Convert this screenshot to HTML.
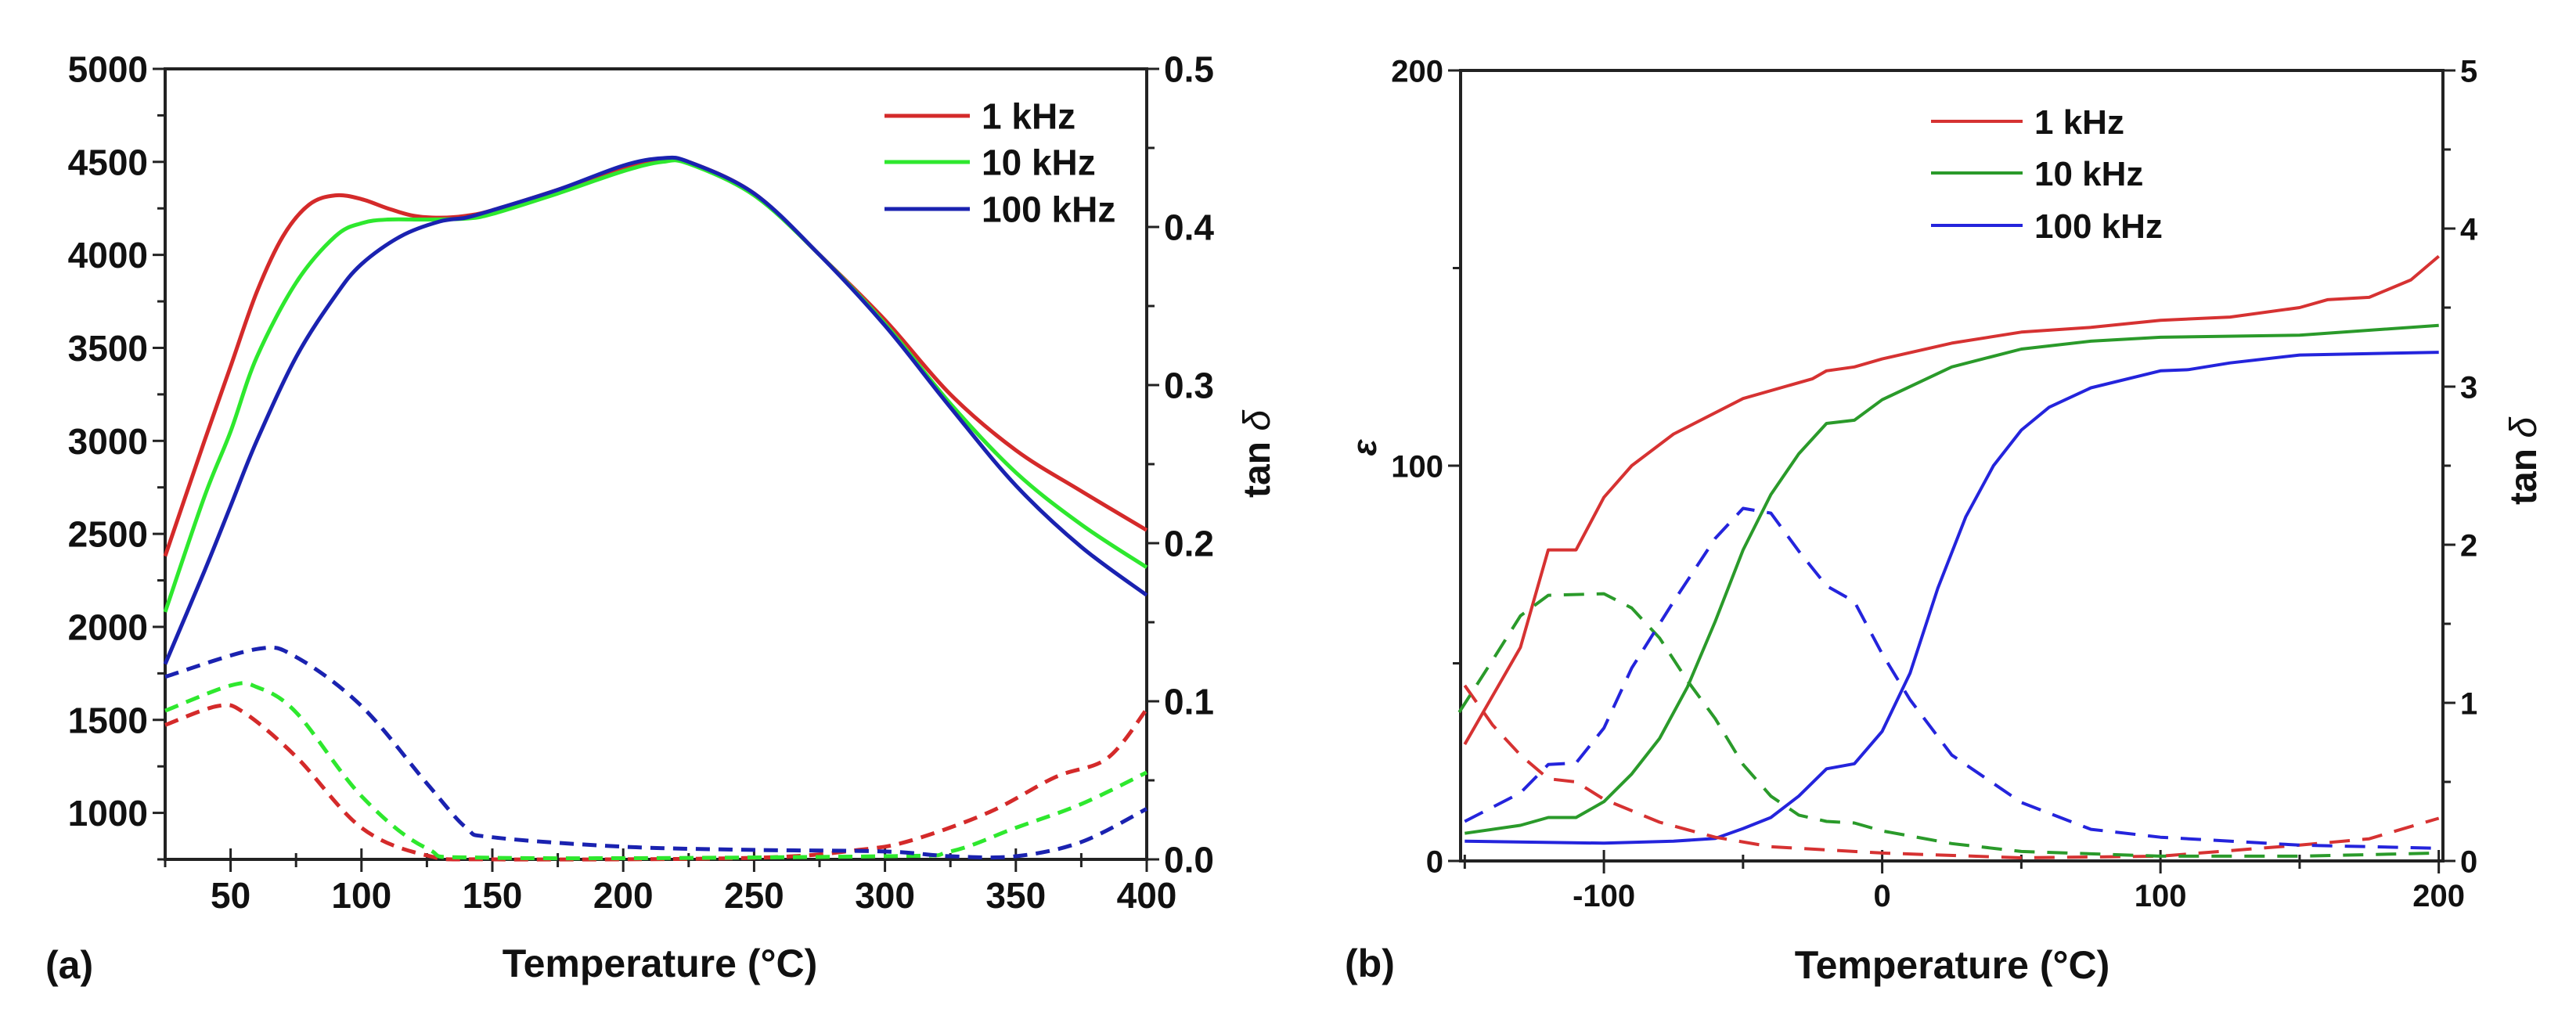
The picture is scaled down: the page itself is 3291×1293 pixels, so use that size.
<!DOCTYPE html>
<html><head><meta charset="utf-8"><style>
html,body{margin:0;padding:0;background:#fff;}
svg{display:block;}
text{font-family:"Liberation Sans",Arial,sans-serif;font-weight:bold;fill:#111;}
</style></head><body>
<svg id="chart" width="3291" height="1293" viewBox="0 0 3291 1293" xmlns="http://www.w3.org/2000/svg"></svg>
<script>
// ---------- Panel (a) data ----------
const aRedT = [25,40,50,60,70,80,90,100,110,120,130,140,150,175,200,215,225,250,275,300,325,350,375,400];
const aRedE = [2380,3000,3400,3800,4100,4270,4320,4300,4250,4210,4200,4210,4240,4350,4470,4510,4500,4330,4000,3650,3250,2950,2730,2520];
const aGreenT = [25,40,50,60,75,90,100,110,125,140,150,175,200,215,225,250,275,300,325,350,375,400];
const aGreenE = [2080,2700,3050,3450,3850,4100,4170,4190,4190,4195,4220,4330,4450,4500,4490,4320,4000,3630,3200,2830,2550,2320];
const aBlueT = [25,40,50,60,75,90,100,115,130,140,150,175,200,215,225,250,275,300,325,350,375,400];
const aBlueE = [1800,2300,2650,3000,3450,3780,3950,4100,4180,4200,4240,4350,4480,4520,4500,4330,4000,3620,3180,2760,2430,2170];
const aBlueTanT = [25,60,75,100,125,140,150,200,250,300,325,350,375,400];
const aBlueTan = [0.1155,0.133,0.128,0.097,0.048,0.02,0.014,0.008,0.006,0.005,0.002,0.002,0.011,0.032];
const aGreenTanT = [25,50,60,75,100,125,150,300,325,350,375,400];
const aGreenTan = [0.094,0.11,0.109,0.093,0.04,0.007,0.001,0.002,0.005,0.02,0.035,0.055];
const aRedTanT = [25,45,55,75,100,125,150,250,290,310,340,365,385,400];
const aRedTan = [0.085,0.097,0.093,0.065,0.02,0.0025,0,0.001,0.006,0.012,0.03,0.052,0.064,0.095];
const aXTicks = [50,100,150,200,250,300,350,400];
const aYTicks = [1000,1500,2000,2500,3000,3500,4000,4500,5000];
const aY2Ticks = ["0.0","0.1","0.2","0.3","0.4","0.5"];
// ---------- Panel (b) data ----------
const bRedT = [-150,-130,-120,-110,-100,-90,-75,-50,-25,-20,-10,0,25,50,75,100,125,150,160,175,190,200];
const bRedE = [29.5,54,78.7,78.7,92,100,108,117,122,124,125,127,131,133.8,135,136.8,137.6,140,142,142.6,147,153];
const bGreenT = [-150,-130,-120,-110,-100,-90,-80,-70,-60,-50,-40,-30,-20,-10,0,25,50,75,100,150,200];
const bGreenE = [7,9,11,11,15,22,31,44,60.6,78.7,92.7,103,110.7,111.5,116.7,125,129.5,131.5,132.5,133,135.5];
const bBlueT = [-150,-100,-75,-60,-50,-40,-30,-20,-10,0,10,20,30,40,50,60,75,100,110,125,150,200];
const bBlueE = [5,4.5,5,5.7,8.2,11,16.4,23.3,24.6,32.8,47.5,69,87,100,109,114.8,119.7,124,124.3,126,128,128.7];
const bRedTanT = [-150,-140,-130,-120,-110,-100,-80,-60,-40,-20,0,50,100,150,175,200];
const bRedTan = [1.11,0.86,0.67,0.52,0.5,0.39,0.245,0.15,0.09,0.07,0.05,0.02,0.03,0.1,0.14,0.27];
const bGreenTanT = [-152,-140,-130,-120,-100,-90,-80,-70,-60,-50,-40,-30,-20,-10,0,25,50,100,150,200];
const bGreenTan = [0.94,1.27,1.55,1.68,1.69,1.6,1.41,1.14,0.9,0.61,0.41,0.29,0.25,0.24,0.19,0.11,0.06,0.03,0.03,0.05];
const bBlueTanT = [-150,-130,-120,-110,-100,-90,-75,-60,-50,-40,-30,-20,-10,0,10,25,50,75,100,150,200];
const bBlueTan = [0.25,0.43,0.61,0.62,0.84,1.22,1.64,2.04,2.23,2.2,1.96,1.74,1.64,1.31,1.02,0.67,0.37,0.2,0.15,0.1,0.08];
const bXTicks = [-100,0,100,200];
const bYTicks = [0,100,200];
const bY2Ticks = [0,1,2,3,4,5];
const legendLabels = ["1 kHz","10 kHz","100 kHz"];

const svg = document.getElementById('chart');
const NS = "http://www.w3.org/2000/svg";
function mk(tag, attrs, parent){
  const e = document.createElementNS(NS, tag);
  for (const k in attrs) e.setAttribute(k, attrs[k]);
  (parent||svg).appendChild(e);
  return e;
}
function smoothPath(pts){
  let d = 'M' + pts[0][0].toFixed(1) + ',' + pts[0][1].toFixed(1);
  for (let i = 0; i < pts.length - 1; i++){
    const p0 = pts[Math.max(0,i-1)], p1 = pts[i], p2 = pts[i+1], p3 = pts[Math.min(pts.length-1,i+2)];
    const c1x = p1[0] + (p2[0]-p0[0])/6, c1y = p1[1] + (p2[1]-p0[1])/6;
    const c2x = p2[0] - (p3[0]-p1[0])/6, c2y = p2[1] - (p3[1]-p1[1])/6;
    d += ' C' + c1x.toFixed(1) + ',' + c1y.toFixed(1) + ' ' + c2x.toFixed(1) + ',' + c2y.toFixed(1) + ' ' + p2[0].toFixed(1) + ',' + p2[1].toFixed(1);
  }
  return d;
}
function panel(cfg){
  const g = mk('g', {});
  
  
  const X = v => cfg.x0 + (v - cfg.xmin)/(cfg.xmax - cfg.xmin)*(cfg.x1 - cfg.x0);
  const Y = v => cfg.y1 - (v - cfg.ymin)/(cfg.ymax - cfg.ymin)*(cfg.y1 - cfg.y0);
  const Y2 = v => cfg.y1 - (v - cfg.y2min)/(cfg.y2max - cfg.y2min)*(cfg.y1 - cfg.y0);
  const fr = mk('rect', {x:cfg.x0, y:cfg.y0, width:cfg.x1-cfg.x0, height:cfg.y1-cfg.y0, fill:'none', stroke:'#222', 'stroke-width':4}, g);
  
  
  for (let v = cfg.xminor0; v <= cfg.xmax + 0.01; v += cfg.xminor){
    const major = cfg.xTicks.indexOf(v) >= 0;
    const t = mk('line', {x1:X(v), x2:X(v), y1:cfg.y1-(major?14:8), y2:cfg.y1+(major?16:10), stroke:'#222', 'stroke-width':3}, g);
    
    
  }
  cfg.xTicks.forEach(v => {
    const t = mk('text', {x:X(v), y:cfg.y1+cfg.xLabOff, 'text-anchor':'middle', 'font-size':cfg.fs}, g);
    t.textContent = v;
    
    
  });
  for (let v = cfg.yminor0; v <= cfg.ymax + 0.01; v += cfg.yminor){
    const major = cfg.yTicks.indexOf(v) >= 0;
    const t = mk('line', {x1:cfg.x0-(major?16:10), x2:cfg.x0, y1:Y(v), y2:Y(v), stroke:'#222', 'stroke-width':3}, g);
    
    
  }
  cfg.yTicks.forEach(v => {
    const t = mk('text', {x:cfg.x0-22, y:Y(v)+cfg.fs*0.36, 'text-anchor':'end', 'font-size':cfg.fs}, g);
    t.textContent = v;
    
    
  });
  for (let v = cfg.y2min; v <= cfg.y2max + 1e-6; v += cfg.y2minor){
    const major = Math.abs(Math.round(v/cfg.y2major)*cfg.y2major - v) < 1e-6;
    const t = mk('line', {x1:cfg.x1, x2:cfg.x1+(major?16:10), y1:Y2(v), y2:Y2(v), stroke:'#222', 'stroke-width':3}, g);
    
    
  }
  cfg.y2Ticks.forEach(s => {
    const t = mk('text', {x:cfg.x1+22, y:Y2(parseFloat(s))+cfg.fs*0.36, 'font-size':cfg.fs2}, g);
    t.textContent = s;
    
    
  });
  cfg.series.forEach(s => {
    const f = s.right ? Y2 : Y;
    const pts = s.t.map((v,i) => [X(v), f(s.v[i])]);
    const d = cfg.smooth ? smoothPath(pts) : pts.map((p,i) => (i?'L':'M') + p[0].toFixed(1) + ',' + p[1].toFixed(1)).join(' ');
    const p = mk('path', {d:d, fill:'none', stroke:s.c, 'stroke-width':cfg.lw, 'stroke-linejoin':'round'}, g);
    if (s.right) p.setAttribute('stroke-dasharray', cfg.dash);
    
    
  });
  cfg.legend.rows.forEach((yy, i) => {
    const lg = mk('g', {}, g);
    
    
    mk('line', {x1:cfg.legend.lx0, x2:cfg.legend.lx1, y1:yy, y2:yy, stroke:cfg.colors[i], 'stroke-width':cfg.lw}, lg);
    const t = mk('text', {x:cfg.legend.tx, y:yy+cfg.legend.fs*0.36, 'font-size':cfg.legend.fs}, lg);
    t.textContent = legendLabels[i];
  });
  return g;
}

panel({name:'panel-a', smooth:true, x0:211, x1:1465, y0:88, y1:1098, xmin:25, xmax:400, ymin:750, ymax:5000, y2min:0, y2max:0.5,
  xTicks:aXTicks, xminor0:25, xminor:25, yTicks:aYTicks, yminor0:750, yminor:250, y2Ticks:aY2Ticks, y2minor:0.05, y2major:0.1,
  fs:46, fs2:46, xLabOff:62, lw:5, dash:'18 11',
  colors:['#d42a2a','#2ee82e','#1a22b0'],
  series:[
    {name:'eps-1khz-line', t:aRedT, v:aRedE, c:'#d42a2a'},
    {name:'eps-10khz-line', t:aGreenT, v:aGreenE, c:'#2ee82e'},
    {name:'eps-100khz-line', t:aBlueT, v:aBlueE, c:'#1a22b0'},
    {name:'tan-1khz-line', t:aRedTanT, v:aRedTan, c:'#d42a2a', right:true},
    {name:'tan-10khz-line', t:aGreenTanT, v:aGreenTan, c:'#2ee82e', right:true},
    {name:'tan-100khz-line', t:aBlueTanT, v:aBlueTan, c:'#1a22b0', right:true}],
  legend:{rows:[148,207,267], lx0:1130, lx1:1239, tx:1254, fs:46}
});
panel({name:'panel-b', smooth:false, x0:1866, x1:3121, y0:90, y1:1100, xmin:-151.5, xmax:201.5, ymin:0, ymax:200, y2min:0, y2max:5,
  xTicks:bXTicks, xminor0:-150, xminor:50, yTicks:bYTicks, yminor0:0, yminor:50, y2Ticks:bY2Ticks.map(String), y2minor:0.5, y2major:1,
  fs:40, fs2:40, xLabOff:58, lw:4, dash:'26 16',
  colors:['#d63232','#2a9a2a','#2424dc'],
  series:[
    {name:'eps-1khz-line', t:bRedT, v:bRedE, c:'#d63232'},
    {name:'eps-10khz-line', t:bGreenT, v:bGreenE, c:'#2a9a2a'},
    {name:'eps-100khz-line', t:bBlueT, v:bBlueE, c:'#2424dc'},
    {name:'tan-1khz-line', t:bRedTanT, v:bRedTan, c:'#d63232', right:true},
    {name:'tan-10khz-line', t:bGreenTanT, v:bGreenTan, c:'#2a9a2a', right:true},
    {name:'tan-100khz-line', t:bBlueTanT, v:bBlueTan, c:'#2424dc', right:true}],
  legend:{rows:[155,221,288], lx0:2467, lx1:2584, tx:2599, fs:44}
});
</script>
<svg style="position:absolute;left:0;top:0" width="3291" height="1293">
  <text x="843" y="1248" text-anchor="middle" font-size="50">Temperature (°C)</text>
  <text x="58" y="1250" font-size="50">(a)</text>
  <text transform="translate(1622,580) rotate(-90)" text-anchor="middle" font-size="48">tan <tspan font-style="italic" font-weight="normal">δ</tspan></text>
  <text x="2494" y="1250" text-anchor="middle" font-size="50">Temperature (°C)</text>
  <text x="1718" y="1248" font-size="50">(b)</text>
  <text transform="translate(3240,589) rotate(-90)" text-anchor="middle" font-size="48">tan <tspan font-style="italic" font-weight="normal">δ</tspan></text>
  <text transform="translate(1758,572) rotate(-90)" text-anchor="middle" font-size="44" font-style="italic" font-weight="normal">ε</text>
</svg>
</body></html>
